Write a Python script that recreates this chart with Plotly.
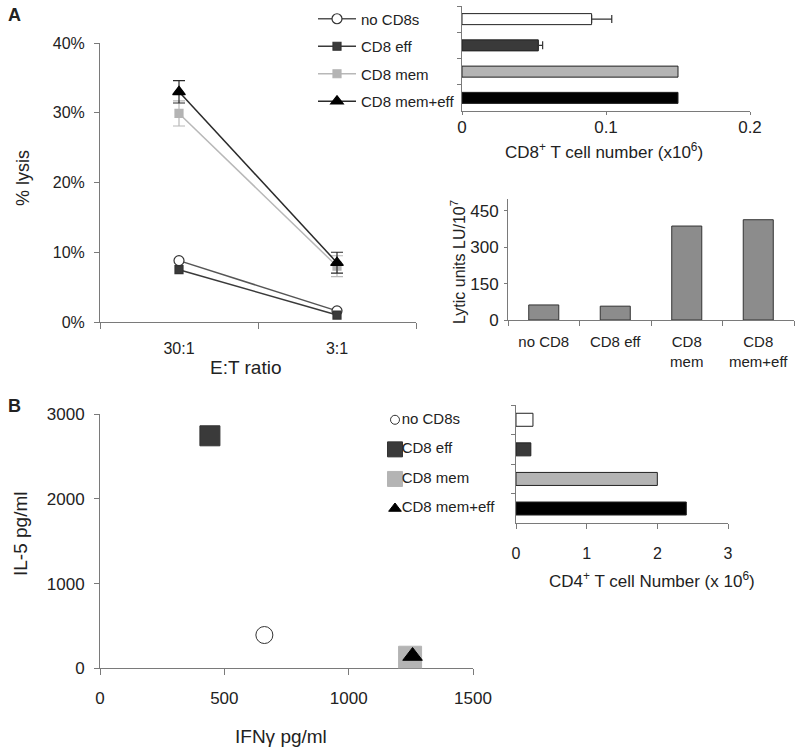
import plotly.graph_objects as go

# ---------------- data ----------------
groups = ["no CD8s", "CD8 eff", "CD8 mem", "CD8 mem+eff"]
et_ratios = ["30:1", "3:1"]

lysis_no_cd8 = [8.8, 1.6]
lysis_eff = [7.5, 1.0]
lysis_mem = [29.9, 8.0]
lysis_mem_eff = [33.0, 8.5]
lysis_mem_err = [1.8, 1.5]
lysis_mem_eff_err = [1.6, 1.5]

cd8_number = [0.090, 0.053, 0.150, 0.150]
cd8_number_err = [0.014, 0.003, 0.0, 0.0]

lytic_labels = ["no CD8", "CD8 eff", "CD8<br>mem", "CD8<br>mem+eff"]
lytic_units = [62, 57, 387, 413]

ifng = [661, 442, 1247, 1257]
il5 = [393, 2746, 125, 145]

cd4_number = [0.24, 0.21, 2.0, 2.41]

lysis_ticks = [0, 10, 20, 30, 40]
lysis_ticktext = ["0%", "10%", "20%", "30%", "40%"]
cd8_ticks = [0, 0.1, 0.2]
cd8_ticktext = ["0", "0.1", "0.2"]
lytic_ticks = [0, 150, 300, 450]
ifng_ticks = [0, 500, 1000, 1500]
il5_ticks = [0, 1000, 2000, 3000]
cd4_ticks = [0, 1, 2, 3]

# ---------------- styles ----------------
W, H = 800, 753
FONT = "Liberation Sans, Arial, sans-serif"
TXT = "#222222"
AX = "#7a7a7a"
fills = ["#ffffff", "#3a3a3a", "#b4b4b4", "#000000"]
line_cols = ["#555555", "#3a3a3a", "#b8b8b8", "#2a2a2a"]
edge_cols = ["#333333", "#333333", "#b4b4b4", "#000000"]
symbols = ["circle", "square", "square", "triangle-up"]
line_sizes = [10, 8, 8, 11]
scatter_sizes = [17, 20, 23, 17]
key_sizes = [9, 15, 15, 11]
line_data = [lysis_no_cd8, lysis_eff, lysis_mem, lysis_mem_eff]
line_errs = [None, None, lysis_mem_err, lysis_mem_eff_err]


def X(px):
    return px / W


def Y(py):
    return 1 - py / H


fig = go.Figure()

# ---- Panel A: % lysis lines ----
for i, g in enumerate(groups):
    err = None
    if line_errs[i] is not None:
        err = dict(type="data", array=line_errs[i], visible=True,
                   color=line_cols[i], thickness=1.2, width=6)
    fig.add_trace(go.Scatter(
        x=et_ratios, y=line_data[i], name=g, mode="lines+markers",
        line=dict(color=line_cols[i], width=1.5),
        marker=dict(symbol=symbols[i], size=line_sizes[i], color=fills[i],
                    opacity=1, line=dict(color=edge_cols[i], width=1.2)),
        error_y=err, xaxis="x", yaxis="y", legend="legend",
        legendgroup=g, showlegend=True))

# ---- Panel A: CD8 number bars ----
for i, g in enumerate(groups):
    fig.add_trace(go.Bar(
        y=[g], x=[cd8_number[i]], orientation="h", width=0.42,
        marker=dict(color=fills[i], line=dict(color="#222222", width=1)),
        error_x=dict(type="data", array=[cd8_number_err[i]], arrayminus=[0],
                     symmetric=False, visible=cd8_number_err[i] > 0,
                     color="#333333", thickness=1.2, width=4),
        xaxis="x2", yaxis="y2", showlegend=False))

# ---- Panel A: lytic units ----
fig.add_trace(go.Bar(
    x=lytic_labels, y=lytic_units, width=0.42,
    marker=dict(color="#8c8c8c", line=dict(color="#333333", width=1)),
    xaxis="x3", yaxis="y3", showlegend=False))

# ---- Panel B: scatter ----
for i, g in enumerate(groups):
    fig.add_trace(go.Scatter(
        x=[ifng[i]], y=[il5[i]], mode="markers", name=g,
        marker=dict(symbol=symbols[i], size=scatter_sizes[i], color=fills[i],
                    opacity=1, line=dict(color=edge_cols[i], width=1)),
        xaxis="x4", yaxis="y4", showlegend=False))

# ---- Panel B: CD4 bars ----
for i, g in enumerate(groups):
    fig.add_trace(go.Bar(
        y=[g], x=[cd4_number[i]], orientation="h", width=0.44,
        marker=dict(color=fills[i], line=dict(color="#222222", width=1)),
        xaxis="x5", yaxis="y5", showlegend=False))

# ---- Panel B: key (markers, then names) ----
fig.add_trace(go.Scatter(
    x=[0] * len(groups), y=groups, mode="markers",
    marker=dict(symbol=symbols, size=key_sizes, color=fills, opacity=1,
                line=dict(color=edge_cols, width=1)),
    xaxis="x6", yaxis="y5", showlegend=False, hoverinfo="skip",
    cliponaxis=False))
fig.add_trace(go.Scatter(
    x=[0] * len(groups), y=groups, mode="markers+text", text=groups,
    textposition="middle right",
    textfont=dict(family=FONT, size=15, color=TXT),
    marker=dict(size=9, opacity=0),
    xaxis="x6", yaxis="y5", showlegend=False, hoverinfo="skip",
    cliponaxis=False))

axis_common = dict(showline=True, linecolor=AX, linewidth=1, ticks="outside",
                   tickcolor=AX, showgrid=False, zeroline=False,
                   layer="below traces", automargin=False)

fig.update_layout(
    width=W, height=H, autosize=False,
    margin=dict(l=0, r=0, t=0, b=0, pad=0, autoexpand=False),
    paper_bgcolor="white", plot_bgcolor="white",
    font=dict(family=FONT, color=TXT),
    barmode="overlay",
    xaxis=dict(axis_common, domain=[X(100), X(416)], anchor="y",
               type="category", categoryorder="array", categoryarray=et_ratios,
               range=[-0.5, 1.5], tickson="boundaries", ticklen=6,
               tickfont=dict(family=FONT, color=TXT, size=16),
               ticklabelstandoff=12),
    yaxis=dict(axis_common, domain=[Y(322), Y(43)], anchor="x",
               range=[0, 40], tickmode="array", tickvals=lysis_ticks,
               ticktext=lysis_ticktext,
               ticklen=5, tickfont=dict(family=FONT, color=TXT, size=16),
               ticklabelstandoff=6),
    xaxis2=dict(axis_common, domain=[X(462), X(750)], anchor="y2",
                range=[0, 0.2], tickmode="array", tickvals=cd8_ticks,
                ticktext=cd8_ticktext,
                ticklen=3, tickfont=dict(family=FONT, color=TXT, size=17),
                ticklabelstandoff=-2),
    yaxis2=dict(axis_common, domain=[Y(111), Y(6)], anchor="x2",
                type="category", categoryorder="array", categoryarray=groups,
                range=[3.5, -0.5], tickson="boundaries", ticklen=4,
                showticklabels=False),
    xaxis3=dict(axis_common, domain=[X(508), X(794)], anchor="y3",
                type="category", categoryorder="array",
                categoryarray=lytic_labels, range=[-0.5, 3.5],
                tickson="boundaries", ticklen=5,
                tickfont=dict(family=FONT, color=TXT, size=15),
                ticklabelstandoff=8),
    yaxis3=dict(axis_common, domain=[Y(320), Y(198.6)], anchor="x3",
                range=[0, 500], tickmode="array", tickvals=lytic_ticks,
                ticklen=3,
                tickfont=dict(family=FONT, color=TXT, size=17),
                ticklabelstandoff=2),
    xaxis4=dict(axis_common, domain=[X(100), X(473)], anchor="y4",
                range=[0, 1500], tickmode="array", tickvals=ifng_ticks,
                ticklen=6,
                tickfont=dict(family=FONT, color=TXT, size=17),
                ticklabelstandoff=8),
    yaxis4=dict(axis_common, domain=[Y(668.3), Y(414.3)], anchor="x4",
                range=[0, 3000], tickmode="array", tickvals=il5_ticks,
                ticklen=5,
                tickfont=dict(family=FONT, color=TXT, size=17),
                ticklabelstandoff=6),
    xaxis5=dict(axis_common, domain=[X(516), X(728)], anchor="y5",
                range=[0, 3], tickmode="array", tickvals=cd4_ticks, ticklen=5,
                tickfont=dict(family=FONT, color=TXT, size=16),
                ticklabelstandoff=10),
    yaxis5=dict(axis_common, domain=[Y(523.3), Y(405)], anchor="x5",
                type="category", categoryorder="array", categoryarray=groups,
                range=[3.5, -0.5], tickson="boundaries", ticklen=4,
                showticklabels=False),
    xaxis6=dict(domain=[X(380), X(510)], anchor="y5", range=[-15, 115],
                visible=False, showgrid=False, zeroline=False,
                automargin=False),
    legend=dict(x=X(313), y=Y(2.5), xanchor="left", yanchor="top",
                traceorder="grouped", tracegroupgap=5, itemwidth=38,
                font=dict(family=FONT, size=15, color=TXT),
                bgcolor="rgba(0,0,0,0)", borderwidth=0),
)

annotations = [
    dict(text="<b>A</b>", x=X(14), y=Y(15), size=18),
    dict(text="<b>B</b>", x=X(14), y=Y(406), size=18),
    dict(text="% lysis", x=X(23), y=Y(178), size=18, angle=-90),
    dict(text="E:T ratio", x=X(245), y=Y(367), size=19),
    dict(text="CD8<sup>+</sup> T cell number (x10<sup>6</sup>)",
         x=X(604), y=Y(151), size=17),
    dict(text="Lytic units LU/10<sup>7</sup>", x=X(458), y=Y(262), size=16,
         angle=-90),
    dict(text="IL-5 pg/ml", x=X(20), y=Y(534), size=19, angle=-90),
    dict(text="IFN\u03b3 pg/ml", x=X(281), y=Y(736), size=19),
    dict(text="CD4<sup>+</sup> T cell Number (x 10<sup>6</sup>)",
         x=X(652), y=Y(580), size=17),
]
for a in annotations:
    fig.add_annotation(text=a["text"], x=a["x"], y=a["y"], xref="paper",
                       yref="paper", xanchor="center", yanchor="middle",
                       showarrow=False, textangle=a.get("angle", 0),
                       font=dict(family=FONT, size=a["size"], color=TXT))

fig.write_html("out.html",
               config={"displayModeBar": False},
               post_script="document.body.style.margin='0px';")
